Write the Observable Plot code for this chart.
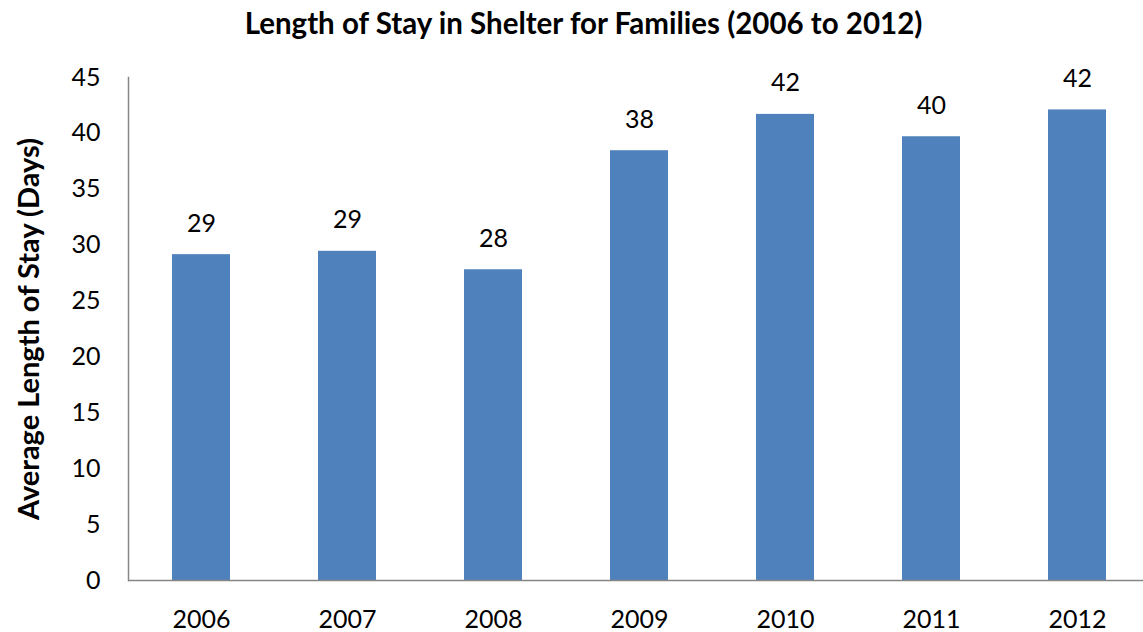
<!DOCTYPE html>
<html>
<head>
<meta charset="utf-8">
<script src="https://cdn.jsdelivr.net/npm/d3@7"></script>
<script src="https://cdn.jsdelivr.net/npm/@observablehq/plot@0.6"></script>
<style>
  html, body { margin: 0; padding: 0; background: #fff; }
  #title { width: 1143px; height: 56px; line-height: 46px; text-align: center; padding-left: 24px; box-sizing: border-box;
    font-family: Lato, "Open Sans", sans-serif; font-weight: bold; font-size: 29.5px; color: #000; white-space: nowrap; }
  svg { display: block; overflow: visible; }
</style>
</head>
<body>
<div id="title">Length of Stay in Shelter for Families (2006 to 2012)</div>
<div id="chart"></div>
<script>
const years = ["2006", "2007", "2008", "2009", "2010", "2011", "2012"];
const stays = [29.15, 29.45, 27.8, 38.45, 41.7, 39.7, 42.1];
const labels = ["29", "29", "28", "38", "42", "40", "42"];
const yTicks = [0, 5, 10, 15, 20, 25, 30, 35, 40, 45];

const data = years.map((y, i) => ({year: y, value: stays[i], label: labels[i]}));
const font = "Lato, 'Open Sans', sans-serif";

const chart = Plot.plot({
  width: 1143,
  height: 576,
  marginTop: 21,
  marginBottom: 52,
  marginLeft: 128,
  marginRight: 0,
  style: {fontFamily: font, fontSize: "25px", color: "#000", background: "#fff", overflow: "visible"},
  x: {domain: years, range: [128, 1150], paddingInner: 0.6, paddingOuter: 0.3, label: null},
  y: {domain: [0, 45], label: null},
  marks: [
    Plot.barY(data, {x: "year", y: "value", fill: "#4F81BD"}),
    Plot.frame({anchor: "left", stroke: "#868686", strokeWidth: 1.5}),
    Plot.ruleY([0], {stroke: "#868686", strokeWidth: 1.5}),
    Plot.axisX({tickSize: 0, tickPadding: 30, fontSize: 25, label: null}),
    Plot.axisY({ticks: yTicks, tickSize: 0, tickPadding: 28, fontSize: 25, label: null}),
    Plot.text(data, {x: "year", y: "value", text: "label", dy: -31, fontSize: 25, fill: "#000"}),
    Plot.text(["Average Length of Stay (Days)"], {frameAnchor: "left", textAnchor: "middle", dx: -99, dy: 0, rotate: -90,
      fontSize: 29, fontWeight: "bold", fill: "#000"})
  ]
});
document.getElementById("chart").appendChild(chart);
</script>
</body>
</html>
